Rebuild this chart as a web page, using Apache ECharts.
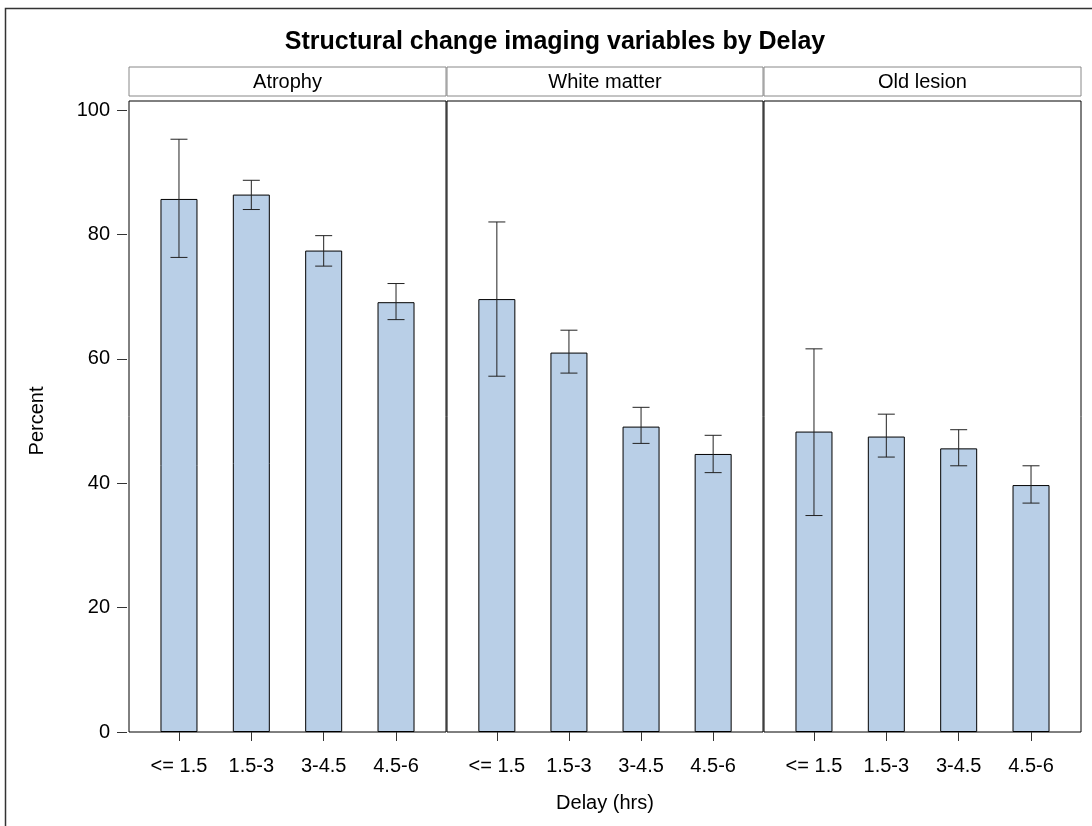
<!DOCTYPE html>
<html>
<head>
<meta charset="utf-8">
<script src="https://cdn.jsdelivr.net/npm/echarts@6/dist/echarts.min.js"></script>
<style>
html,body{margin:0;padding:0;background:#fff;}
#chart{width:1092px;height:826px;}
</style>
</head>
<body>
<div id="chart"></div>
<script>
// ---- data ----
var categories = ['<= 1.5', '1.5-3', '3-4.5', '4.5-6'];
var panelNames = ['Atrophy', 'White matter', 'Old lesion'];
var yTicks = [0, 20, 40, 60, 80, 100];

var atrophyPct  = [85.7, 86.4, 77.4, 69.1];
var atrophyLow  = [76.3, 84.0, 74.9, 66.3];
var atrophyHigh = [95.3, 88.7, 79.8, 72.1];

var whiteMatterPct  = [69.6, 61.0, 49.1, 44.7];
var whiteMatterLow  = [57.2, 57.7, 46.4, 41.7];
var whiteMatterHigh = [82.0, 64.6, 52.2, 47.7];

var oldLesionPct  = [48.3, 47.5, 45.6, 39.7];
var oldLesionLow  = [34.8, 44.2, 42.8, 36.8];
var oldLesionHigh = [61.6, 51.1, 48.6, 42.8];

var titleText = 'Structural change imaging variables by Delay';
var xAxisTitle = 'Delay (hrs)';
var yAxisTitle = 'Percent';

// ---- layout ----
var FONT = '"Liberation Sans", Arial, sans-serif';
var panelLefts = [129, 447, 764];
var panelWidths = [317, 316, 317];
var inset = 13.8;
var frameTop = 101, plotBottom = 732;
var dataTop = 110;
var stripTop = 67, stripH = 29;
var barColor = '#B9CFE7';

var pctSets = [atrophyPct, whiteMatterPct, oldLesionPct];
var lowSets = [atrophyLow, whiteMatterLow, oldLesionLow];
var highSets = [atrophyHigh, whiteMatterHigh, oldLesionHigh];

var grids = [], xAxes = [], yAxes = [], series = [], graphics = [];

// data grids 0..2
for (var p = 0; p < 3; p++) {
  grids.push({
    left: panelLefts[p] + inset, width: panelWidths[p] - 2 * inset,
    top: dataTop, height: plotBottom - dataTop, containLabel: false
  });
  xAxes.push({
    type: 'category', gridIndex: p, data: categories, boundaryGap: true,
    offset: 2,
    axisLine: { show: false },
    axisTick: { show: true, alignWithLabel: true, interval: 0, length: 9, lineStyle: { color: '#333', width: 1 } },
    axisLabel: { show: true, interval: 0, margin: 22, color: '#000', fontSize: 20, fontFamily: FONT },
    name: p === 1 ? xAxisTitle : '',
    nameLocation: 'middle', nameGap: 59,
    nameTextStyle: { color: '#000', fontSize: 20, fontFamily: FONT }
  });
  yAxes.push({
    type: 'value', gridIndex: p, min: 0, max: 100,
    offset: p === 0 ? inset + 2 : 0,
    show: p === 0,
    splitLine: { show: false },
    axisLine: { show: false },
    axisTick: { show: true, length: 10, customValues: yTicks, lineStyle: { color: '#333', width: 1 } },
    axisLabel: { show: true, margin: 17, customValues: yTicks, color: '#000', fontSize: 20, fontFamily: FONT },
    name: p === 0 ? yAxisTitle : '',
    nameLocation: 'middle', nameGap: 80, nameRotate: 90,
    nameTextStyle: { color: '#000', fontSize: 20, fontFamily: FONT }
  });
  series.push({
    type: 'bar', xAxisIndex: p, yAxisIndex: p,
    data: pctSets[p], barWidth: 37,
    itemStyle: { color: barColor, borderColor: '#000', borderWidth: 1 },
    silent: true, z: 2
  });
  var eb = [];
  for (var i = 0; i < categories.length; i++) eb.push([i, lowSets[p][i], highSets[p][i]]);
  series.push({
    type: 'custom', xAxisIndex: p, yAxisIndex: p, data: eb, z: 3, silent: true,
    encode: { x: 0, y: [1, 2] },
    renderItem: function (params, api) {
      var x = api.value(0), lo = api.value(1), hi = api.value(2);
      var pt = api.coord([x, hi]), pb = api.coord([x, lo]);
      var half = 8.5;
      var st = { stroke: '#222', lineWidth: 1 };
      return {
        type: 'group',
        children: [
          { type: 'line', shape: { x1: pt[0], y1: pt[1], x2: pb[0], y2: pb[1] }, style: st },
          { type: 'line', shape: { x1: pt[0] - half, y1: pt[1], x2: pt[0] + half, y2: pt[1] }, style: st },
          { type: 'line', shape: { x1: pb[0] - half, y1: pb[1], x2: pb[0] + half, y2: pb[1] }, style: st }
        ]
      };
    }
  });
}
// frame grids 3..5 and strip grids 6..8
for (var p2 = 0; p2 < 3; p2++) {
  grids.push({
    left: panelLefts[p2], width: panelWidths[p2], top: frameTop, height: plotBottom - frameTop,
    show: true, backgroundColor: '#fff', borderColor: '#000', borderWidth: 1, z: 0
  });
  xAxes.push({ type: 'value', gridIndex: 3 + p2, show: false });
  yAxes.push({ type: 'value', gridIndex: 3 + p2, show: false });
}
for (var p3 = 0; p3 < 3; p3++) {
  grids.push({
    left: panelLefts[p3], width: panelWidths[p3], top: stripTop, height: stripH,
    show: true, backgroundColor: '#fff', borderColor: '#888', borderWidth: 1, z: 0
  });
  xAxes.push({ type: 'value', gridIndex: 6 + p3, show: false });
  yAxes.push({ type: 'value', gridIndex: 6 + p3, show: false });
  graphics.push({
    type: 'text', x: panelLefts[p3] + panelWidths[p3] / 2, y: stripTop + stripH / 2 + 1, z: 10,
    style: { text: panelNames[p3], fill: '#000', font: '20px ' + FONT, textAlign: 'center', textVerticalAlign: 'middle' }
  });
}
graphics.push({
  type: 'text', x: 555, y: 42, z: 10,
  style: { text: titleText, fill: '#000', font: 'bold 25px ' + FONT, textAlign: 'center', textVerticalAlign: 'middle' }
});
graphics.push({
  type: 'rect', z: -10, silent: true,
  shape: { x: 5.5, y: 8.5, width: 1200, height: 1000 },
  style: { fill: 'none', stroke: '#333', lineWidth: 1.5 }
});

var chart = echarts.init(document.getElementById('chart'), null, { renderer: 'canvas' });
chart.setOption({
  backgroundColor: '#fff',
  animation: false,
  grid: grids,
  xAxis: xAxes,
  yAxis: yAxes,
  series: series,
  graphic: graphics
});
</script>
</body>
</html>
